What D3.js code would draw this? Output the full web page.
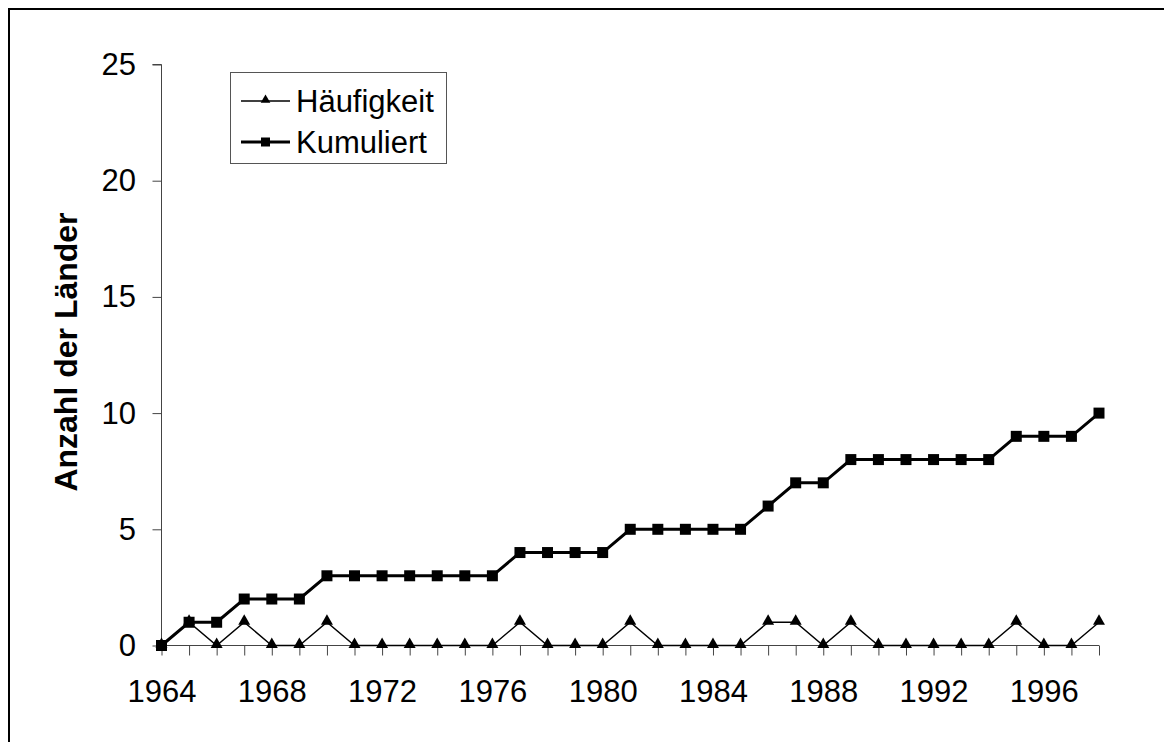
<!DOCTYPE html>
<html>
<head>
<meta charset="utf-8">
<script src="https://cdn.jsdelivr.net/npm/d3@7"></script>
<style>
  html, body { margin: 0; padding: 0; background: #fff; }
  svg { display: block; font-family: "Liberation Sans", Arial, sans-serif; }
</style>
</head>
<body>
<svg id="chart" width="1164" height="742"></svg>
<script>
const years = [1964,1965,1966,1967,1968,1969,1970,1971,1972,1973,1974,1975,1976,1977,1978,1979,1980,1981,1982,1983,1984,1985,1986,1987,1988,1989,1990,1991,1992,1993,1994,1995,1996,1997,1998];
const haeufigkeit = [0,1,0,1,0,0,1,0,0,0,0,0,0,1,0,0,0,1,0,0,0,0,1,1,0,1,0,0,0,0,0,1,0,0,1];
const kumuliert   = [0,1,1,2,2,2,3,3,3,3,3,3,3,4,4,4,4,5,5,5,5,5,6,7,7,8,8,8,8,8,8,9,9,9,10];
const yTicks = [0,5,10,15,20,25];
const xLabelYears = [1964,1968,1972,1976,1980,1984,1988,1992,1996];
const seriesNames = ["Häufigkeit","Kumuliert"];
const yTitle = "Anzahl der Länder";

const svg = d3.select("#chart");
const FS = 31;

// outer frame
svg.append("rect").attr("x",9).attr("y",9).attr("width",1200).attr("height",800)
  .attr("fill","none").attr("stroke","#000").attr("stroke-width",2);

const x = d3.scaleLinear().domain([1964,1998]).range([161.5,1099]);
const y = d3.scaleLinear().domain([0,25]).range([645.5,64.5]);

// y axis
const yAxis = svg.append("g").attr("transform","translate(161.5,0)")
  .call(d3.axisLeft(y).tickValues(yTicks).tickSize(9).tickPadding(16.5).tickFormat(d3.format("d")));
yAxis.select(".domain").attr("stroke","#444").attr("d","M-9,64.5H0V645.5");
yAxis.selectAll(".tick line").attr("stroke","#444");
yAxis.selectAll("text").attr("font-size",FS).attr("fill","#000")
  .attr("font-family","Liberation Sans, Arial, sans-serif");

// x axis
const xAxis = svg.append("g").attr("transform","translate(0,645.5)")
  .call(d3.axisBottom(x).tickValues(years).tickSize(10).tickPadding(34.5 - 10)
    .tickFormat(d => xLabelYears.includes(d) ? String(d) : ""));
xAxis.select(".domain").attr("stroke","#444").attr("d","M161.5,0H1099");
xAxis.selectAll(".tick line").attr("stroke","#444");
xAxis.selectAll("text").attr("font-size",FS).attr("fill","#000").attr("dy",null)
  .attr("y",56.5)
  .attr("font-family","Liberation Sans, Arial, sans-serif");

// y title
svg.append("text").attr("transform","translate(77,352) rotate(-90)")
  .attr("text-anchor","middle").attr("font-size",32).attr("font-weight","bold")
  .text(yTitle);

const tri = d3.symbol().type(d3.symbolTriangle);
const sq = d3.symbol().type(d3.symbolSquare);

// Häufigkeit
const line = d3.line().x((d,i)=>x(years[i])).y(d=>y(d));
svg.append("path").datum(haeufigkeit).attr("d",line)
  .attr("fill","none").attr("stroke","#000").attr("stroke-width",1.4);
svg.selectAll(".tri").data(haeufigkeit).enter().append("path")
  .attr("transform",(d,i)=>`translate(${x(years[i])},${y(d)-1})`)
  .attr("d",tri.size(62)()).attr("fill","#000");

// Kumuliert
svg.append("path").datum(kumuliert).attr("d",line)
  .attr("fill","none").attr("stroke","#000").attr("stroke-width",3);
svg.selectAll(".sq").data(kumuliert).enter().append("path")
  .attr("transform",(d,i)=>`translate(${x(years[i])},${y(d)})`)
  .attr("d",sq.size(121)()).attr("fill","#000");

// legend
const lg = svg.append("g");
lg.append("rect").attr("x",230.5).attr("y",72.5).attr("width",216).attr("height",91)
  .attr("fill","#fff").attr("stroke","#555").attr("stroke-width",1);
const rows = [101,142];
rows.forEach((ry,i)=>{
  lg.append("line").attr("x1",241).attr("x2",290).attr("y1",ry).attr("y2",ry)
    .attr("stroke","#000").attr("stroke-width", i===0 ? 1.4 : 3);
  lg.append("path").attr("transform",`translate(265.5,${i===0?ry-1:ry})`)
    .attr("d", i===0 ? tri.size(40)() : sq.size(81)()).attr("fill","#000");
  lg.append("text").attr("x",296).attr("y",ry+11).attr("font-size",FS)
    .text(seriesNames[i]);
});
</script>
</body>
</html>
